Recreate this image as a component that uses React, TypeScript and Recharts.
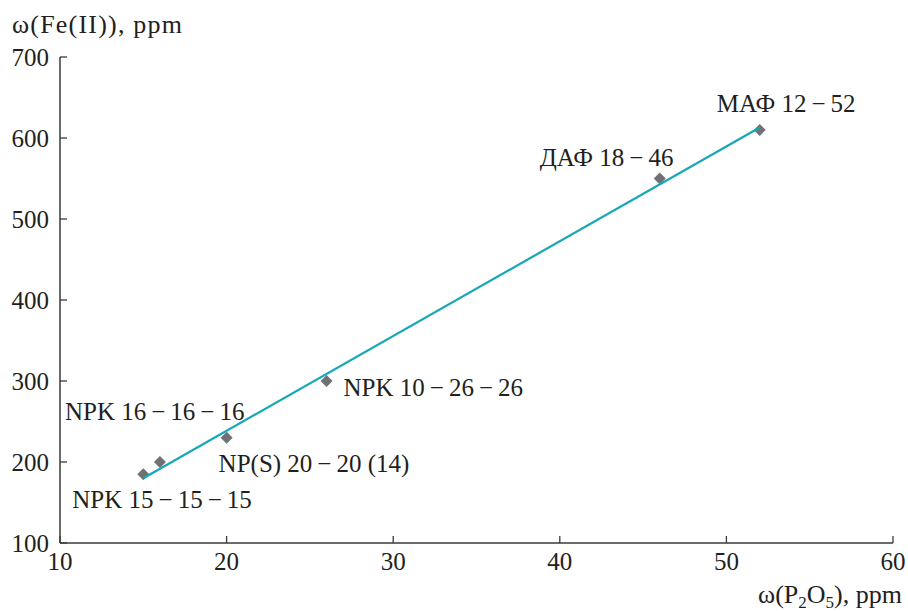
import { ScatterChart, Scatter, XAxis, YAxis } from 'recharts'

// fertilizer samples: P2O5 content vs Fe(II) content
const names = [
  'NPK 15\u2009−\u200915\u2009−\u200915',
  'NPK 16\u2009−\u200916\u2009−\u200916',
  'NP(S) 20\u2009−\u200920 (14)',
  'NPK 10\u2009−\u200926\u2009−\u200926',
  'ДАФ 18\u2009−\u200946',
  'МАФ 12\u2009−\u200952',
]
const p2o5 = [15, 16, 20, 26, 46, 52]
const fe2 = [185, 200, 230, 300, 550, 610]

// fitted trend line, end points
const trendX = [15, 52]
const trendY = [180, 613]

const xTicks = [10, 20, 30, 40, 50, 60]
const yTicks = [100, 200, 300, 400, 500, 600, 700]

const points = names.map((name, i) => ({ name, x: p2o5[i], y: fe2[i] }))
const trend = trendX.map((x, i) => ({ x, y: trendY[i] }))

// label placement relative to marker centre, by point order: [dx, dy]
const labelPos: [number, number][] = [
  [-71, 34],
  [-95, -42],
  [-8, 34],
  [17, 15],
  [-120, -13],
  [-43, -18],
]

const FONT = '"Liberation Serif", "Times New Roman", serif'
const INK = '#231f20'
const AXIS = '#3a3a3a'

function Diamond(props: any) {
  const { cx, cy, payload } = props
  const r = 6
  const lp = labelPos[names.indexOf(payload.name)]
  return (
    <g>
      <polygon points={`${cx},${cy - r} ${cx + r},${cy} ${cx},${cy + r} ${cx - r},${cy}`} fill="#707174" />
      <text x={cx + lp[0]} y={cy + lp[1]} fontSize={25} fontFamily={FONT} fill={INK}>
        {payload.name}
      </text>
    </g>
  )
}

const XTick = (p: any) => (
  <g>
    <line x1={p.x} x2={p.x} y1={p.y} y2={p.y - 7} stroke={AXIS} strokeWidth={1.3} />
    <text x={p.x} y={p.y + 27} textAnchor="middle" fontSize={25} fontFamily={FONT} fill={INK}>{p.payload.value}</text>
  </g>
)

const YTick = (p: any) => (
  <g>
    <line x1={p.x} x2={p.x + 7} y1={p.y} y2={p.y} stroke={AXIS} strokeWidth={1.3} />
    <text x={p.x - 11} y={p.y} dy="0.35em" textAnchor="end" fontSize={25} fontFamily={FONT} fill={INK}>{p.payload.value}</text>
  </g>
)

export default function App() {
  return (
    <div style={{ position: 'absolute', left: 0, top: 0, width: 908, height: 611, background: '#fff' }}>
      <ScatterChart width={908} height={611} margin={{ top: 57, right: 15, bottom: 38, left: 0 }}>
        <XAxis
          type="number" dataKey="x" domain={[10, 60]} ticks={xTicks} height={30}
          axisLine={{ stroke: AXIS, strokeWidth: 1.5 }} tickLine={false} tickSize={0} tickMargin={0}
          tick={XTick} allowDataOverflow
        />
        <YAxis
          type="number" dataKey="y" domain={[100, 700]} ticks={yTicks} width={60}
          axisLine={{ stroke: AXIS, strokeWidth: 1.5 }} tickLine={false} tickSize={0} tickMargin={0}
          tick={YTick} allowDataOverflow
        />
        <Scatter data={points} shape={Diamond} isAnimationActive={false} />
        <Scatter data={trend} line={{ stroke: '#16a7b8', strokeWidth: 2.2 }} shape={() => null} isAnimationActive={false} />
      </ScatterChart>
      <svg width={908} height={611} style={{ position: 'absolute', left: 0, top: 0, pointerEvents: 'none' }}>
        <text x={12} y={33} fontSize={26} fontFamily={FONT} fill={INK} textLength={170}>ω(Fe(II)), ppm</text>
        <text x={902} y={603} textAnchor="end" fontSize={26} fontFamily={FONT} fill={INK}>
          ω(P<tspan fontSize={17} dy={5}>2</tspan><tspan dy={-5}>O</tspan><tspan fontSize={17} dy={5}>5</tspan><tspan dy={-5}>), ppm</tspan>
        </text>
      </svg>
    </div>
  )
}
